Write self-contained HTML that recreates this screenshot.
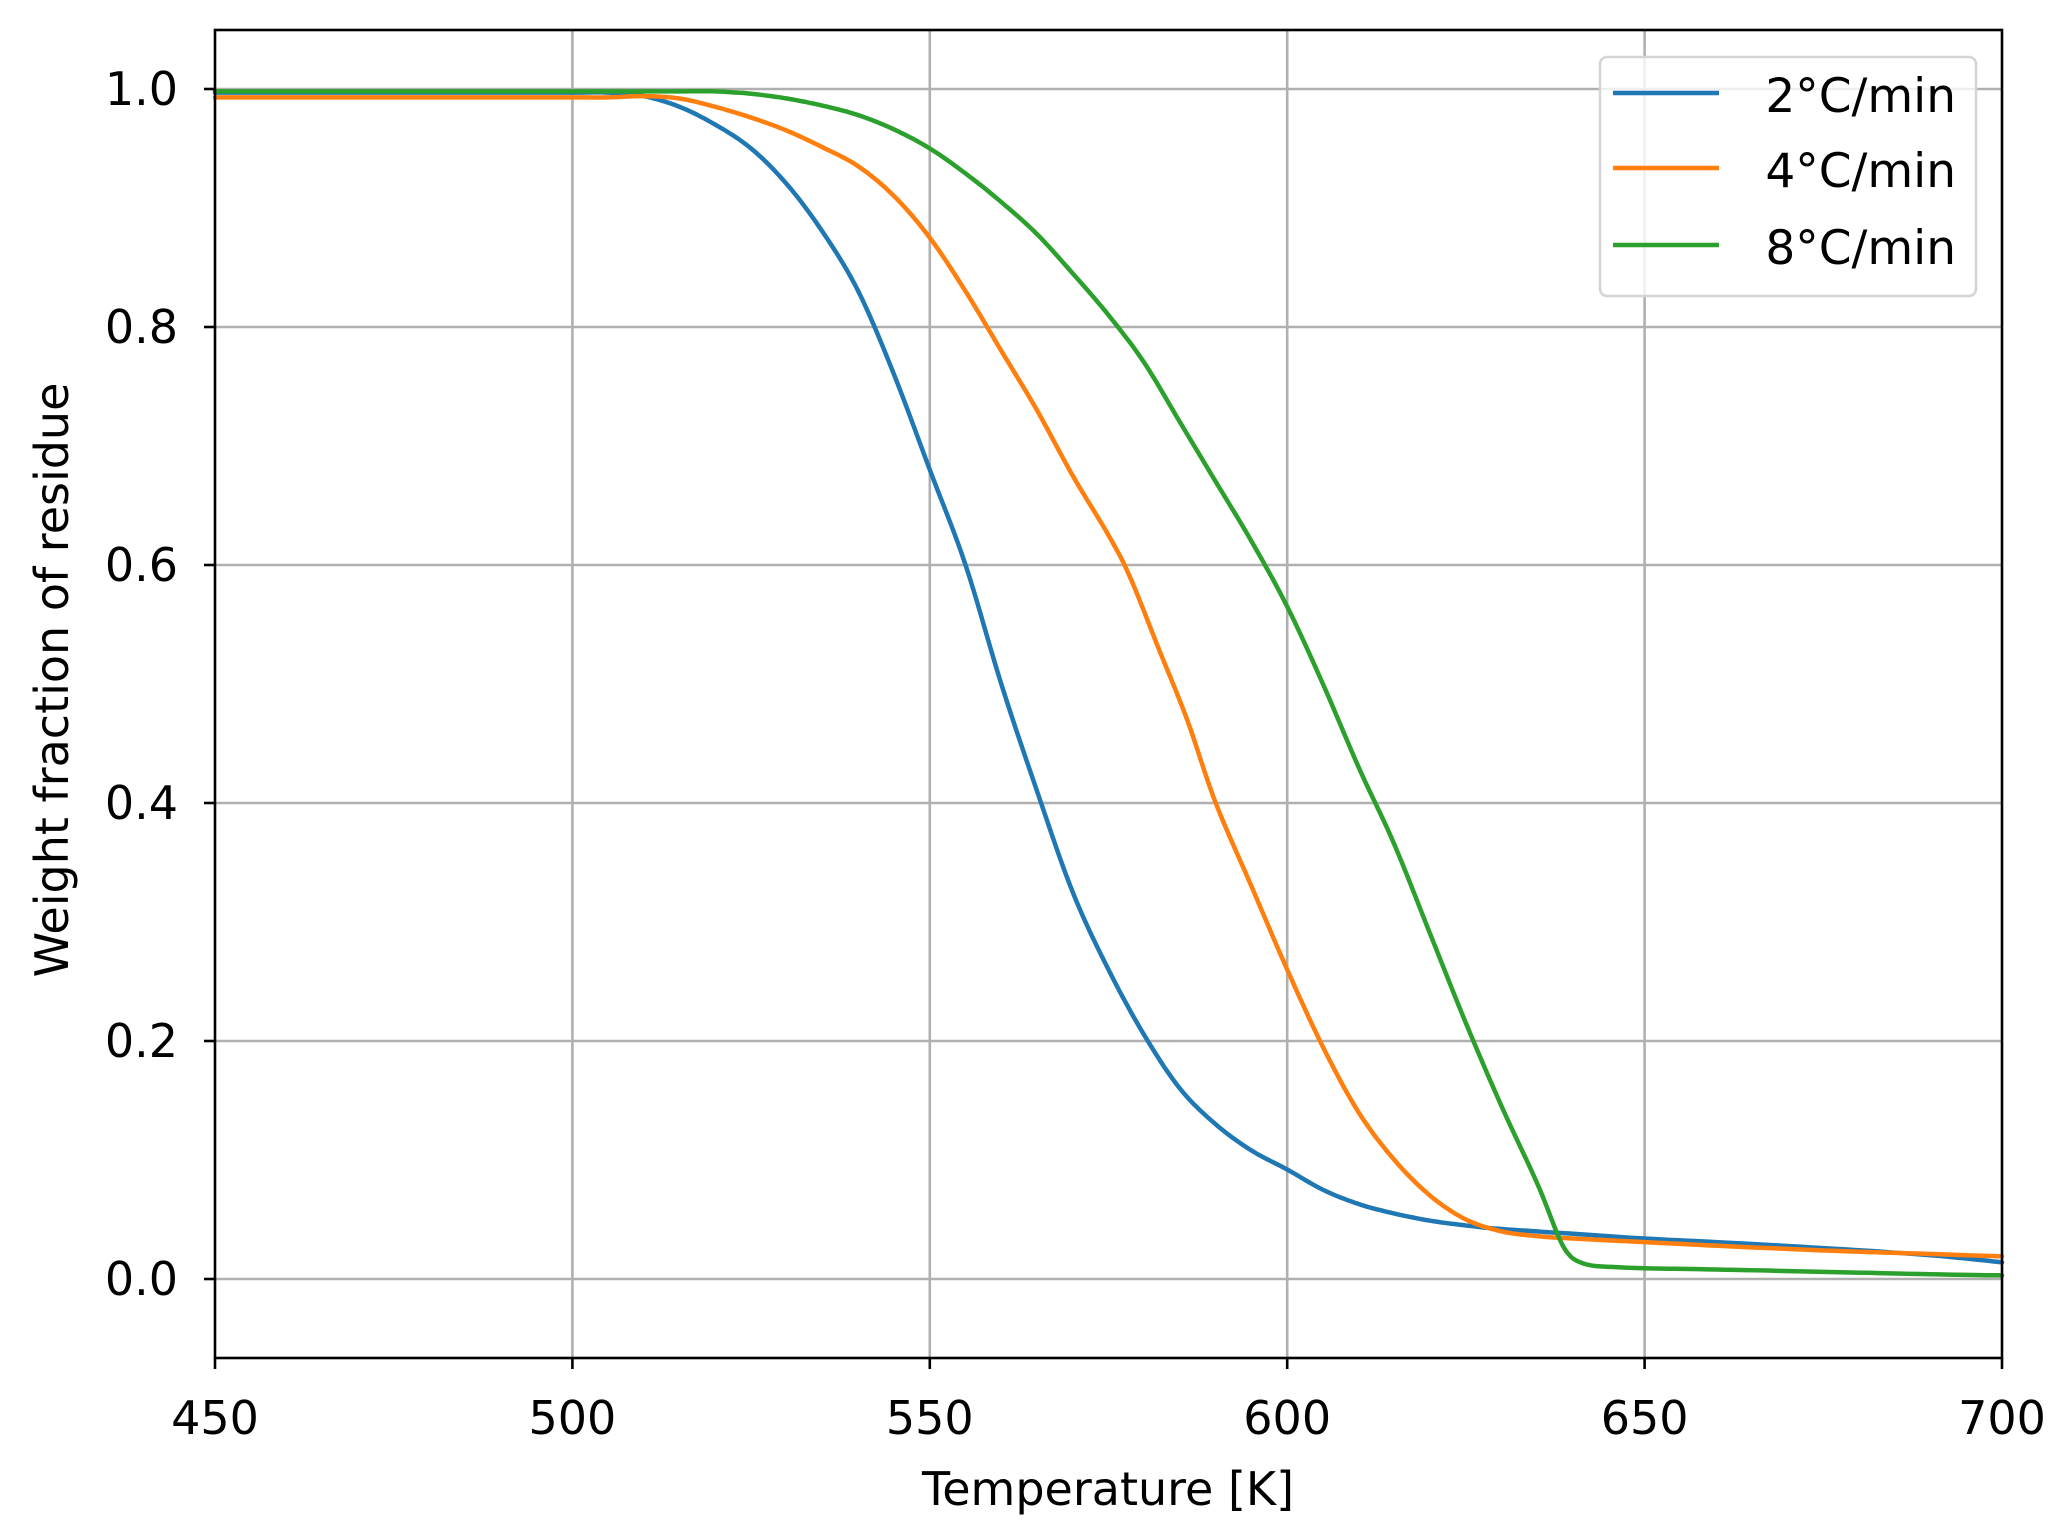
<!DOCTYPE html>
<html><head><meta charset="utf-8"><style>body{margin:0;background:#fff}svg{display:block}text{font-family:"DejaVu Sans","Liberation Sans",sans-serif;fill:#000}</style></head>
<body>
<svg width="2060" height="1530" viewBox="0 0 2060 1530" xmlns="http://www.w3.org/2000/svg">
<rect width="2060" height="1530" fill="#fff"/>
<g stroke="#b0b0b0" stroke-width="2.6">
<line x1="572.4" y1="30" x2="572.4" y2="1358"/><line x1="929.8" y1="30" x2="929.8" y2="1358"/><line x1="1287.2" y1="30" x2="1287.2" y2="1358"/><line x1="1644.6" y1="30" x2="1644.6" y2="1358"/>
<line x1="215" y1="89" x2="2002" y2="89"/><line x1="215" y1="327" x2="2002" y2="327"/><line x1="215" y1="565" x2="2002" y2="565"/><line x1="215" y1="803" x2="2002" y2="803"/><line x1="215" y1="1041" x2="2002" y2="1041"/><line x1="215" y1="1279" x2="2002" y2="1279"/>
</g>
<g transform="translate(215,1279) scale(7.148,-1190) translate(-450,0)" fill="none" stroke-width="4.5" stroke-linejoin="round" stroke-linecap="round">
<polyline class="c" vector-effect="non-scaling-stroke" stroke="#1f77b4" points="450,0.997 460,0.997 470,0.997 480,0.997 490,0.997 500,0.997 505,0.997 510,0.994 515,0.985 520,0.97 525,0.95 530,0.92 535,0.88 540,0.83 545,0.76 550,0.68 555,0.6 560,0.5 565,0.41 570,0.325 575,0.26 580,0.205 585,0.16 590,0.13 595,0.108 600,0.092 605,0.075 610,0.063 615,0.055 620,0.049 625,0.045 630,0.042 640,0.038 650,0.034 660,0.031 675,0.026 690,0.02 700,0.014"/>
<polyline class="c" vector-effect="non-scaling-stroke" stroke="#ff7f0e" points="450,0.993 460,0.993 470,0.993 480,0.993 490,0.993 500,0.993 505,0.993 510,0.994 515,0.992 520,0.985 525,0.976 530,0.965 535,0.951 540,0.935 545,0.91 550,0.875 555,0.83 560,0.78 565,0.73 570,0.675 575,0.625 578,0.59 582,0.53 586,0.47 590,0.4 595,0.33 600,0.26 605,0.195 610,0.14 615,0.1 620,0.07 625,0.05 630,0.04 635,0.036 640,0.034 650,0.031 660,0.028 675,0.024 690,0.021 700,0.019"/>
<polyline class="c" vector-effect="non-scaling-stroke" stroke="#2ca02c" points="450,0.998 460,0.998 470,0.998 480,0.998 490,0.998 500,0.998 510,0.998 515,0.998 520,0.998 525,0.996 530,0.992 535,0.986 540,0.978 545,0.966 550,0.95 555,0.929 560,0.905 565,0.878 570,0.845 575,0.81 580,0.77 585,0.72 590,0.67 595,0.62 600,0.565 605,0.5 610,0.43 615,0.365 620,0.29 625,0.215 630,0.145 635,0.08 638,0.035 639.5,0.02 641,0.014 643,0.011 646,0.01 650,0.009 660,0.008 675,0.006 690,0.004 700,0.003"/>
</g>
<rect x="215" y="30" width="1787" height="1328" fill="none" stroke="#000" stroke-width="2.6"/>
<g stroke="#000" stroke-width="2.6">
<line x1="215" y1="1358" x2="215" y2="1369"/><line x1="572.4" y1="1358" x2="572.4" y2="1369"/><line x1="929.8" y1="1358" x2="929.8" y2="1369"/><line x1="1287.2" y1="1358" x2="1287.2" y2="1369"/><line x1="1644.6" y1="1358" x2="1644.6" y2="1369"/><line x1="2002" y1="1358" x2="2002" y2="1369"/>
<line x1="204" y1="89" x2="215" y2="89"/><line x1="204" y1="327" x2="215" y2="327"/><line x1="204" y1="565" x2="215" y2="565"/><line x1="204" y1="803" x2="215" y2="803"/><line x1="204" y1="1041" x2="215" y2="1041"/><line x1="204" y1="1279" x2="215" y2="1279"/>
</g>
<g font-size="46" text-anchor="middle">
<text x="215" y="1434">450</text><text x="572.4" y="1434">500</text><text x="929.8" y="1434">550</text><text x="1287.2" y="1434">600</text><text x="1644.6" y="1434">650</text><text x="2002" y="1434">700</text>
<text x="1108" y="1505">Temperature [K]</text>
<text transform="translate(68,680) rotate(-90)">Weight fraction of residue</text>
</g>
<g font-size="46" text-anchor="end">
<text x="178" y="105">1.0</text><text x="178" y="343">0.8</text><text x="178" y="581">0.6</text><text x="178" y="819">0.4</text><text x="178" y="1057">0.2</text><text x="178" y="1295">0.0</text>
</g>
<rect x="1600" y="57" width="376" height="239" rx="7" fill="#fff" fill-opacity="0.8" stroke="#d5d5d5" stroke-width="2.6"/>
<g stroke-width="4.5"><line x1="1613" y1="93" x2="1719" y2="93" stroke="#1f77b4"/><line x1="1613" y1="168" x2="1719" y2="168" stroke="#ff7f0e"/><line x1="1613" y1="245" x2="1719" y2="245" stroke="#2ca02c"/></g>
<g font-size="47" text-anchor="end"><text x="1956" y="112">2°C/min</text><text x="1956" y="187">4°C/min</text><text x="1956" y="264">8°C/min</text></g>
</svg>
<script>
document.querySelectorAll('polyline.c').forEach(function(pl){
var p=pl.getAttribute('points').trim().split(/\s+/).map(function(s){return s.split(',').map(Number);});
var out=[];
for(var i=0;i<p.length-1;i++){
var p0=p[Math.max(i-1,0)],p1=p[i],p2=p[i+1],p3=p[Math.min(i+2,p.length-1)];
for(var k=0;k<10;k++){var t=k/10,t2=t*t,t3=t2*t;
var f=function(a,b,c,d){return 0.5*((2*b)+(-a+c)*t+(2*a-5*b+4*c-d)*t2+(-a+3*b-3*c+d)*t3);};
out.push(f(p0[0],p1[0],p2[0],p3[0]).toFixed(3)+','+f(p0[1],p1[1],p2[1],p3[1]).toFixed(4));}
}
out.push(p[p.length-1].join(','));
pl.setAttribute('points',out.join(' '));
});
</script>
</body></html>
